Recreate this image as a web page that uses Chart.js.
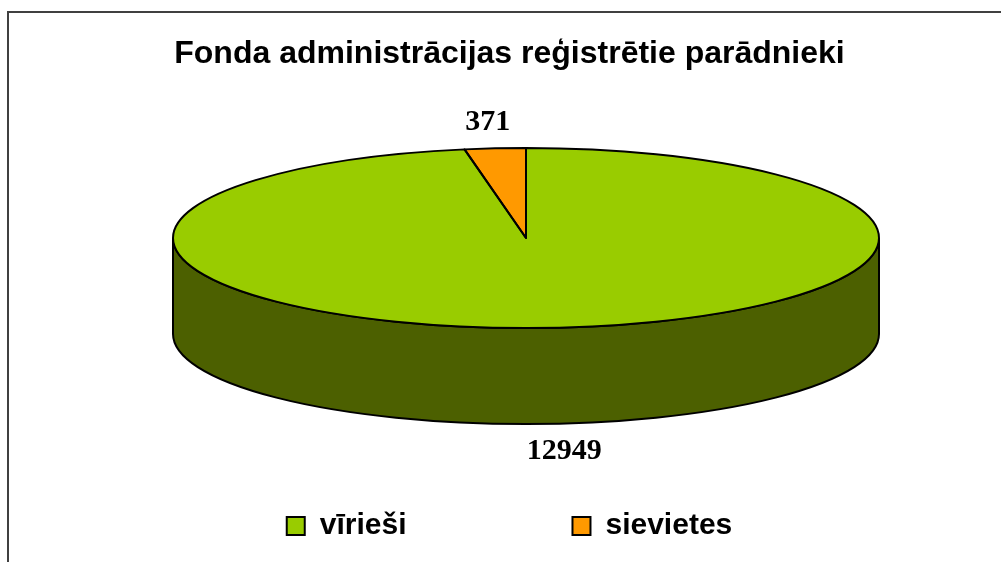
<!DOCTYPE html>
<html>
<head>
<meta charset="utf-8">
<script src="https://cdn.jsdelivr.net/npm/chart.js@4/dist/chart.umd.min.js"></script>
<style>
  body { margin: 0; background: #fff; }
  #wrap { width: 1001px; height: 562px; position: relative; }
</style>
</head>
<body>
<div id="wrap"><canvas id="myChart"></canvas></div>
<script>
let labels = ['vīrieši', 'sievietes'];
let values = [12949, 371];
let colors = ['#99CC00', '#FF9900'];
let sideColors = ['#4C6000', '#7F4C00'];

// where the flattened pie goes on the page
let pie = { cx: 526, cy: 238, rx: 353, ry: 90, depth: 96 };

function arcsOf(chart) {
    return chart.getDatasetMeta(0).data.map(a => a.getProps(['x', 'y', 'startAngle', 'endAngle', 'outerRadius'], true));
}

let pie3d = {
    id: 'pie3d',
    beforeDraw(chart) {
        let ctx = chart.ctx;
        ctx.save();
        ctx.fillStyle = '#fff';
        ctx.fillRect(0, 0, chart.width, chart.height);
        ctx.strokeStyle = '#404040';
        ctx.lineWidth = 2;
        ctx.beginPath();
        ctx.moveTo(8, chart.height);
        ctx.lineTo(8, 12);
        ctx.lineTo(chart.width, 12);
        ctx.stroke();
        ctx.restore();
    },
    beforeDatasetsDraw(chart) {
        let ctx = chart.ctx;
        let arcs = arcsOf(chart);
        // side wall, front half only (0..PI)
        ctx.save();
        ctx.strokeStyle = '#000';
        ctx.lineWidth = 2;
        arcs.forEach((a, i) => {
            let s = Math.max(a.startAngle, 0);
            let e = Math.min(a.endAngle, Math.PI);
            if (e <= s) return;
            ctx.beginPath();
            ctx.ellipse(pie.cx, pie.cy, pie.rx, pie.ry, 0, s, e);
            ctx.ellipse(pie.cx, pie.cy + pie.depth, pie.rx, pie.ry, 0, e, s, true);
            ctx.closePath();
            ctx.fillStyle = sideColors[i];
            ctx.fill();
            ctx.stroke();
        });
        ctx.restore();
        // squash the library's pie into the ellipse
        let a = arcs[0];
        ctx.save();
        ctx.translate(pie.cx, pie.cy);
        ctx.scale(pie.rx / a.outerRadius, pie.ry / a.outerRadius);
        ctx.translate(-a.x, -a.y);
    },
    afterDatasetsDraw(chart) {
        let ctx = chart.ctx;
        ctx.restore();
        let arcs = arcsOf(chart);
        ctx.save();
        ctx.strokeStyle = '#000';
        ctx.lineWidth = 2;
        ctx.lineJoin = 'round';
        arcs.forEach(a => {
            ctx.beginPath();
            ctx.moveTo(pie.cx, pie.cy);
            ctx.ellipse(pie.cx, pie.cy, pie.rx, pie.ry, 0, a.startAngle, a.endAngle);
            ctx.closePath();
            ctx.stroke();
        });
        // value labels
        ctx.fillStyle = '#000';
        ctx.font = 'bold 30px "Liberation Serif", "Times New Roman", serif';
        ctx.textAlign = 'center';
        ctx.textBaseline = 'middle';
        arcs.forEach((a, i) => {
            let m = (a.startAngle + a.endAngle) / 2;
            let x = pie.cx + (pie.rx + 85) * Math.cos(m);
            let y = pie.cy + pie.ry * Math.sin(m);
            y = Math.sin(m) < 0 ? y - 26 : y + pie.depth + 28;
            ctx.fillText(String(values[i]), x, y);
        });
        ctx.restore();
    }
};

let ctx1 = document.getElementById('myChart').getContext('2d');
let chart1 = new Chart(ctx1, {
    type: 'pie',
    data: {
        labels: labels,
        datasets: [{
            data: values,
            backgroundColor: colors,
            borderWidth: 0,
            clip: false
        }]
    },
    plugins: [pie3d],
    options: {
        responsive: true,
        maintainAspectRatio: false,
        animation: false,
        events: [],
        layout: { padding: { left: 18, right: 0, top: 0, bottom: 11 } },
        plugins: {
            title: {
                display: true,
                text: 'Fonda administrācijas reģistrētie parādnieki',
                color: '#000',
                font: { family: '"Liberation Sans", Arial, sans-serif', size: 32, weight: 'bold' },
                padding: { top: 35, bottom: 10 }
            },
            legend: {
                display: true,
                position: 'bottom',
                labels: {
                    boxWidth: 18,
                    boxHeight: 18,
                    padding: 166,
                    color: '#000',
                    font: { family: '"Liberation Sans", Arial, sans-serif', size: 30, weight: 'bold' },
                    generateLabels: (chart) => labels.map((t, i) => ({
                        text: t,
                        fillStyle: colors[i],
                        strokeStyle: '#000',
                        lineWidth: 2,
                        hidden: false,
                        index: i,
                        fontColor: '#000'
                    }))
                }
            },
            tooltip: { enabled: false }
        }
    }
});
</script>
</body>
</html>
